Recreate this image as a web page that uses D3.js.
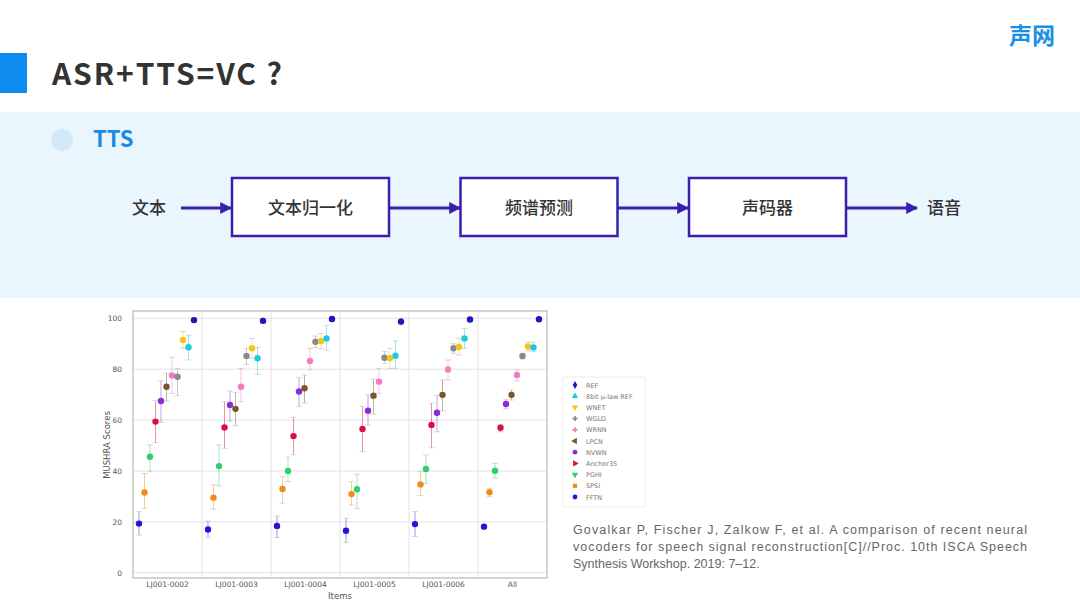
<!DOCTYPE html>
<html><head><meta charset="utf-8">
<script src="https://cdn.jsdelivr.net/npm/d3@7/dist/d3.min.js"></script>
<style>body{margin:0;background:#fff}svg{display:block}</style>
</head><body>
<svg id="c" width="1080" height="607"></svg>
<script>
const items = ["LJ001-0002","LJ001-0003","LJ001-0004","LJ001-0005","LJ001-0006","All"];
const seriesNames = ["FFTN","SPSI","PGHI","Anchor35","NVWN","LPCN","WRNN","WGLO","WNET","8bit \u03bc-law REF","REF"];
const seriesColors = ["#2418d6","#f08c1c","#2fd06a","#d81040","#8a2ad8","#7a5628","#f27cc0","#8a8a8a","#f5c51a","#1cc8e4","#1e16c0"];
const seriesShapes = ["circle","square","triangleDown","triangleRight","circle","triangleLeft","cross","cross","triangleDown","triangleUp","diamond"];
const FFTN      = [19.3,17.0,18.4,16.5,19.1,18.1];
const FFTN_lo   = [14.8,13.9,13.8,11.8,14.2,17.4];
const FFTN_hi   = [24.0,20.3,22.3,21.4,24.0,18.8];
const SPSI      = [31.5,29.5,32.9,30.9,34.7,31.6];
const SPSI_lo   = [25.3,25.0,27.3,26.6,30.3,29.9];
const SPSI_hi   = [39.0,34.5,37.7,35.8,39.7,33.2];
const PGHI      = [45.6,41.9,40.0,32.8,40.8,40.1];
const PGHI_lo   = [39.7,34.1,35.8,25.3,35.1,37.1];
const PGHI_hi   = [50.2,50.2,45.4,38.8,46.3,43.0];
const Anchor35    = [59.4,57.1,53.7,56.5,58.1,57.0];
const Anchor35_lo = [51.2,48.9,46.3,47.6,49.1,55.4];
const Anchor35_hi = [67.6,67.2,61.1,65.3,66.6,58.3];
const NVWN      = [67.5,65.9,71.2,63.7,62.9,66.3];
const NVWN_lo   = [59.1,59.6,65.3,58.0,55.4,64.4];
const NVWN_hi   = [75.4,71.4,76.7,69.9,69.6,68.2];
const LPCN      = [73.1,64.4,72.5,69.6,69.9,69.9];
const LPCN_lo   = [67.5,57.8,66.7,62.3,63.6,67.9];
const LPCN_hi   = [78.4,70.9,77.7,76.1,75.8,71.8];
const WRNN      = [77.5,73.1,83.2,75.1,79.9,77.7];
const WRNN_lo   = [70.5,67.2,79.7,70.5,75.8,75.4];
const WRNN_hi   = [84.7,80.3,88.2,80.3,83.6,79.7];
const WGLO      = [77.0,85.2,90.8,84.5,88.2,85.2];
const WGLO_lo   = [69.6,81.9,88.5,82.3,86.2,84.0];
const WGLO_hi   = [80.3,88.2,93.0,86.9,90.0,86.2];
const WNET      = [91.5,88.2,91.1,84.3,88.7,88.9];
const WNET_lo   = [88.2,84.3,88.0,80.3,85.6,87.2];
const WNET_hi   = [94.8,92.1,94.0,88.2,92.1,90.6];
const MULAW     = [88.6,84.3,92.1,85.3,92.1,88.5];
const MULAW_lo  = [83.6,78.0,87.5,80.3,88.2,86.9];
const MULAW_hi  = [93.4,88.5,97.3,91.1,96.0,90.6];
const REF       = [99.3,99.0,99.7,98.7,99.5,99.6];
const REF_lo    = [98.5,98.0,99.0,97.5,98.7,99.3];
const REF_hi    = [100.2,100.0,100.3,100.0,100.3,99.9];
const yTicks = [0,20,40,60,80,100];
const flowSteps = ["文本归一化","频谱预测","声码器"];
const citation = ["Govalkar P, Fischer J, Zalkow F, et al. A comparison of recent neural",
                  "vocoders for speech signal reconstruction[C]//Proc. 10th ISCA Speech",
                  "Synthesis Workshop. 2019: 7\u201312."];

const means = [FFTN,SPSI,PGHI,Anchor35,NVWN,LPCN,WRNN,WGLO,WNET,MULAW,REF];
const los   = [FFTN_lo,SPSI_lo,PGHI_lo,Anchor35_lo,NVWN_lo,LPCN_lo,WRNN_lo,WGLO_lo,WNET_lo,MULAW_lo,REF_lo];
const his   = [FFTN_hi,SPSI_hi,PGHI_hi,Anchor35_hi,NVWN_hi,LPCN_hi,WRNN_hi,WGLO_hi,WNET_hi,MULAW_hi,REF_hi];

const svg = d3.select("#c");
const CJK = "'Noto Sans CJK SC','Noto Sans',sans-serif";

// ---------- slide header ----------
svg.append("rect").attr("x",0).attr("y",53).attr("width",27).attr("height",40).attr("fill","#0e8cf0");
svg.append("text").attr("x",52).attr("y",85).attr("font-family",CJK).attr("font-weight",700)
  .attr("font-size",30).attr("fill","#333").attr("textLength",230).attr("lengthAdjust","spacing").text("ASR+TTS=VC ?");
svg.append("text").attr("x",1009).attr("y",44).attr("font-family",CJK).attr("font-weight",700)
  .attr("font-size",23).attr("fill","#1b8fe6").text("声网");

// light band
svg.append("rect").attr("x",0).attr("y",112).attr("width",1080).attr("height",186).attr("fill","#eaf6fd");
svg.append("circle").attr("cx",62).attr("cy",140).attr("r",11).attr("fill","#d2e8f8");
svg.append("text").attr("x",93).attr("y",147).attr("font-family",CJK).attr("font-weight",700)
  .attr("font-size",22).attr("fill","#1a8be2").text("TTS");

// flow
const flowColor = "#3a1fae";
const defs = svg.append("defs");
defs.append("marker").attr("id","ah").attr("viewBox","0 0 10 10").attr("refX",9).attr("refY",5)
  .attr("markerWidth",4).attr("markerHeight",4).attr("orient","auto")
  .append("path").attr("d","M0,0L10,5L0,10z").attr("fill",flowColor);
const boxX = d3.scalePoint().domain(flowSteps).range([232,689]);
const boxW = 157, boxY = 178, boxH = 58, midY = 208;
svg.append("text").attr("x",132).attr("y",midY+6).attr("font-family",CJK).attr("font-size",17)
  .attr("font-weight",500).attr("fill","#333").text("文本");
const arrowsX = [[181,232],[389,461],[618,689],[847,918]];
arrowsX.forEach(a=>{
  svg.append("line").attr("x1",a[0]).attr("x2",a[1]-1).attr("y1",midY).attr("y2",midY)
    .attr("stroke",flowColor).attr("stroke-width",3).attr("marker-end","url(#ah)");
});
flowSteps.forEach(s=>{
  svg.append("rect").attr("x",boxX(s)).attr("y",boxY).attr("width",boxW).attr("height",boxH)
    .attr("fill","#fff").attr("stroke",flowColor).attr("stroke-width",2.5);
  svg.append("text").attr("x",boxX(s)+boxW/2).attr("y",midY+6).attr("text-anchor","middle")
    .attr("font-family",CJK).attr("font-size",17).attr("font-weight",500).attr("fill","#333").text(s);
});
svg.append("text").attr("x",927).attr("y",midY+6).attr("font-family",CJK).attr("font-size",17)
  .attr("font-weight",500).attr("fill","#333").text("语音");

// ---------- chart ----------
const x0 = d3.scaleBand().domain(items).range([133,547]).paddingInner(0).paddingOuter(0);
const xs = d3.scalePoint().domain(seriesNames).range([6,61]);
const y = d3.scaleLinear().domain([0,100]).range([572.7,318.3]);
const frameTop = 311, frameBot = 578;
const g = svg.append("g");
g.append("rect").attr("x",133).attr("y",frameTop).attr("width",414).attr("height",frameBot-frameTop)
  .attr("fill","#fff").attr("stroke","#c8c8c8").attr("stroke-width",1.6);
// grid
g.selectAll(".hg").data(yTicks).join("line").attr("x1",134).attr("x2",546)
  .attr("y1",d=>y(d)).attr("y2",d=>y(d)).attr("stroke","#e2e2e2").attr("stroke-width",1);
g.selectAll(".vg").data(items.slice(1)).join("line").attr("x1",d=>x0(d)).attr("x2",d=>x0(d))
  .attr("y1",frameTop+1).attr("y2",frameBot-1).attr("stroke","#e2e2e2").attr("stroke-width",1);
// y axis
const ya = g.append("g").attr("transform","translate(133,0)")
  .call(d3.axisLeft(y).tickValues(yTicks).tickSize(0).tickPadding(11));
ya.select(".domain").remove();
ya.selectAll("text").attr("font-family","'DejaVu Sans',sans-serif").attr("font-size",7.5).attr("fill","#555");
// x axis
const xa = g.append("g").attr("transform",`translate(0,${frameBot})`)
  .call(d3.axisBottom(x0).tickSize(0).tickPadding(4));
xa.select(".domain").remove();
xa.selectAll("text").attr("font-family","'DejaVu Sans',sans-serif").attr("font-size",7.5).attr("fill","#555");
g.append("text").attr("x",340).attr("y",599).attr("text-anchor","middle")
  .attr("font-family","'DejaVu Sans',sans-serif").attr("font-size",8.5).attr("fill","#555").text("Items");
g.append("text").attr("transform","translate(110,445) rotate(-90)").attr("text-anchor","middle")
  .attr("font-family","'DejaVu Sans',sans-serif").attr("font-size",8.5).attr("fill","#555").text("MUSHRA Scores");

const symMap = {circle:d3.symbolCircle,square:d3.symbolSquare,cross:d3.symbolCross,diamond:d3.symbolDiamond,
  triangleUp:d3.symbolTriangle,triangleDown:d3.symbolTriangle,triangleLeft:d3.symbolTriangle,triangleRight:d3.symbolTriangle};
const rot = {triangleDown:180,triangleLeft:-90,triangleRight:90};

seriesNames.forEach((s,si)=>{
  const col = seriesColors[si];
  items.forEach((it,ii)=>{
    const cx = x0(it)+xs(s);
    const m = means[si][ii], lo = los[si][ii], hi = his[si][ii];
    const eg = g.append("g").attr("stroke",col).attr("stroke-opacity",0.45).attr("stroke-width",1);
    eg.append("line").attr("x1",cx).attr("x2",cx).attr("y1",y(lo)).attr("y2",y(hi));
    eg.append("line").attr("x1",cx-3).attr("x2",cx+3).attr("y1",y(lo)).attr("y2",y(lo)).attr("stroke","#aaa");
    eg.append("line").attr("x1",cx-3).attr("x2",cx+3).attr("y1",y(hi)).attr("y2",y(hi)).attr("stroke","#aaa");
    g.append("circle").attr("cx",cx).attr("cy",y(m)).attr("r",3.2).attr("fill",col);
  });
});

// legend
const lg = svg.append("g");
lg.append("rect").attr("x",563).attr("y",377).attr("width",82).attr("height",130)
  .attr("fill","#fff").attr("stroke","#eeeeee").attr("stroke-width",1);
const legOrder = seriesNames.slice().reverse();
const ly = d3.scalePoint().domain(legOrder).range([385,497]);
legOrder.forEach(s=>{
  const si = seriesNames.indexOf(s);
  const shp = seriesShapes[si];
  lg.append("path").attr("d",d3.symbol(symMap[shp],shp==="cross"?14:18)())
    .attr("transform",`translate(575,${ly(s)}) rotate(${rot[shp]||0})`).attr("fill",seriesColors[si]);
  lg.append("text").attr("x",586).attr("y",ly(s)+2.5).attr("font-family","'DejaVu Sans',sans-serif")
    .attr("font-size",6.5).attr("fill","#777").text(s);
});

// citation
const cy = [534,551,568];
citation.forEach((t,i)=>{
  const tx = svg.append("text").attr("x",573).attr("y",cy[i]).attr("font-family","'Liberation Sans',Arial,sans-serif")
    .attr("font-size",12.5).attr("fill","#666").text(t);
  if(i<2) tx.attr("textLength",454).attr("lengthAdjust","spacing");
});
</script>
</body></html>
